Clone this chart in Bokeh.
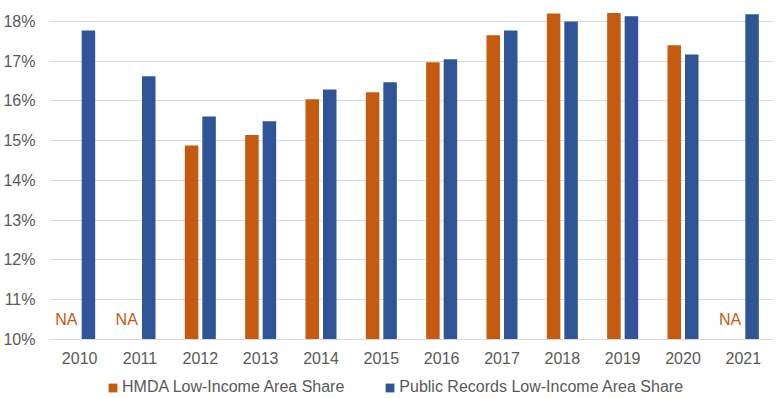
from bokeh.plotting import figure
from bokeh.layouts import column
from bokeh.models import ColumnDataSource, FactorRange, FixedTicker, PrintfTickFormatter, Legend, LegendItem
from bokeh.transform import dodge
from bokeh.core.properties import value
from bokeh.embed import file_html
from bokeh.resources import INLINE

years = ["2010", "2011", "2012", "2013", "2014", "2015", "2016", "2017", "2018", "2019", "2020", "2021"]
hmda = [None, None, 14.88, 15.14, 16.04, 16.22, 16.97, 17.65, 18.20, 18.21, 17.40, None]
public = [17.77, 16.62, 15.61, 15.49, 16.29, 16.47, 17.05, 17.77, 18.00, 18.13, 17.17, 18.18]
y_ticks = [10, 11, 12, 13, 14, 15, 16, 17, 18]
na_label = "NA"
series_names = ["HMDA Low-Income Area Share", "Public Records Low-Income Area Share"]

ORANGE = "#C55A11"
BLUE = "#2F5597"
GREY = "#595959"
GRID = "#D9D9D9"
FONT = "Liberation Sans"

src = ColumnDataSource(dict(
    year=years,
    hmda=[float("nan") if v is None else v for v in hmda],
    public=public,
))
na_years = [y for y, v in zip(years, hmda) if v is None]
na_src = ColumnDataSource(dict(year=na_years, y=[10.5] * len(na_years), t=[na_label] * len(na_years)))

p = figure(x_range=FactorRange(factors=years, range_padding=0), y_range=(10, 18.5),
           width=776, height=366, output_backend="svg", toolbar_location=None,
           min_border_top=1, min_border_right=3, min_border_left=49, min_border_bottom=20)

p.vbar(x=dodge("year", -0.145, range=p.x_range), bottom=10, top="hmda", width=0.224,
       source=src, fill_color=ORANGE, line_color=None)
p.vbar(x=dodge("year", 0.145, range=p.x_range), bottom=10, top="public", width=0.224,
       source=src, fill_color=BLUE, line_color=None)

p.text(x=dodge("year", -0.22, range=p.x_range), y="y", text="t", source=na_src,
       text_color=ORANGE, text_font=value(FONT), text_font_size="16px",
       text_align="center", text_baseline="middle")

p.outline_line_color = None
p.xgrid.grid_line_color = None
p.ygrid.grid_line_color = GRID
p.ygrid.grid_line_width = 1
p.yaxis.ticker = FixedTicker(ticks=y_ticks)
p.yaxis.formatter = PrintfTickFormatter(format="%d%%")
p.yaxis.axis_line_color = None
p.yaxis.major_tick_line_color = None
p.yaxis.minor_tick_line_color = None
p.yaxis.major_label_standoff = 8

p.xaxis.axis_line_color = GRID
p.xaxis.major_tick_line_color = None
p.xaxis.minor_tick_line_color = None
p.xaxis.major_label_standoff = 6

for ax in (p.xaxis, p.yaxis):
    ax.major_label_text_font = FONT
    ax.major_label_text_font_size = "16px"
    ax.major_label_text_color = GREY

# legend strip below the chart (its frame is aligned with the chart's frame)
lf = figure(width=776, height=32, x_range=(0, 1), y_range=(0, 1), output_backend="svg",
            toolbar_location=None, x_axis_type=None, y_axis_type=None,
            min_border=0, min_border_left=0, min_border_right=0, min_border_top=0, min_border_bottom=0)
lf.outline_line_color = None
lf.xgrid.grid_line_color = None
lf.ygrid.grid_line_color = None
g1 = lf.vbar(x=[-10], bottom=[-10], top=[-9], width=0.1, fill_color=ORANGE, line_color=None)
g2 = lf.vbar(x=[-10], bottom=[-10], top=[-9], width=0.1, fill_color=BLUE, line_color=None)

legend = Legend(items=[LegendItem(label=series_names[0], renderers=[g1]),
                       LegendItem(label=series_names[1], renderers=[g2])],
                orientation="horizontal", location=(58, 2))
legend.border_line_color = None
legend.background_fill_alpha = 0
legend.glyph_width = 11
legend.glyph_height = 11
legend.label_standoff = 4
legend.spacing = 40
legend.padding = 1
legend.margin = 0
legend.label_text_font = FONT
legend.label_text_font_size = "16px"
legend.label_text_color = GREY
legend.label_height = 16
lf.add_layout(legend, "center")

layout = column(p, lf, spacing=0)
open("out.html", "w").write(file_html(layout, INLINE))
